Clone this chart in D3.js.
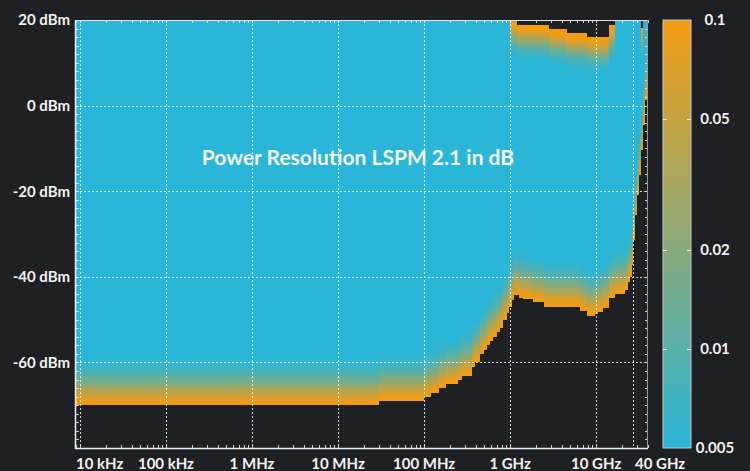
<!DOCTYPE html>
<html><head><meta charset="utf-8">
<script src="https://cdn.jsdelivr.net/npm/d3@7"></script>
<style>
html,body{margin:0;padding:0;background:#1f2023;}
svg{display:block;font-family:Lato,"Open Sans",sans-serif;}
</style></head><body>
<svg id="chart" width="750" height="471"></svg>
<script>
// ---- data ----
const freqEdges = [9e3, 30.1e6, 99e6, 120e6, 150e6, 181e6, 250e6, 278e6, 363e6, 390e6, 446e6, 501e6, 534e6,
  583e6, 637e6, 698e6, 762e6, 833e6, 912e6, 970e6, 1.0e9, 1.06e9, 1.12e9, 1.19e9, 1.28e9, 1.42e9, 1.86e9,
  2.47e9, 2.83e9, 4.58e9, 6.48e9, 7.76e9, 9.7e9, 10.6e9, 12.1e9, 14.1e9, 16.6e9, 21.6e9, 23.2e9, 24.7e9,
  25.8e9, 27.0e9, 28.3e9, 29.9e9, 31.5e9, 33.3e9, 35.1e9, 37.0e9, 38.5e9, 40e9];
const floorDbm = [-70, -69, -68.1, -67.2, -66, -65.1, -64.1, -63.2, -61.1, -60, -58, -57.1,
  -55.9, -54.9, -54, -53, -52, -50, -48.5, -47, -47, -45.4, -44.3, -44.3, -45, -45.3,
  -46, -47, -47, -47, -48, -49.1, -48.7, -48.2, -47.2, -45, -44.1, -43.1, -41.1,
  -40, -37.2, -31.4, -25.6, -20.9, -16.2, -10.4, -4.5, 1.3, 6.0];
const ceilDbm = [null, null, null, null, null, null, null, null, null, null, null, null,
  null, null, null, null, null, null, null, null, 20, 20, 20, 18.8, 18.8, 18.8,
  18.8, 18.8, 17.8, 16.9, 16.9, 16.0, 16.0, 16.0, 16.0, 18.8, null, null, null,
  null, null, null, null, null, null, 18.1, null, null, null];
// resolution (dB) per 0.5 dB row above the lower measurable limit
const riseProfile = [0.1, 0.092, 0.082, 0.07, 0.058, 0.048, 0.04, 0.033, 0.027, 0.022,
  0.018, 0.015, 0.0125, 0.0107, 0.0093, 0.0082, 0.0073, 0.0066, 0.006, 0.0056, 0.0053, 0.0051];
// resolution (dB) per 0.5 dB row below the upper measurable limit
const dropProfile = [0.1, 0.094, 0.082, 0.066, 0.05, 0.038, 0.029, 0.022, 0.017, 0.013,
  0.0105, 0.0088, 0.0075, 0.0065, 0.0058, 0.0053];
const baseResolution = 0.005;
const stepDb = 0.5;

const xTickValues = [1e4, 1e5, 1e6, 1e7, 1e8, 1e9, 1e10, 4e10];
const xTickLabels = ["10 kHz", "100 kHz", "1 MHz", "10 MHz", "100 MHz", "1 GHz", "10 GHz", "40 GHz"];
const xGridValues = [1e4, 1e5, 1e6, 1e7, 1e8, 1e9, 1e10, 2.65e10];
const yTickValues = [20, 0, -20, -40, -60];
const yTickLabels = ["20 dBm", "0 dBm", "-20 dBm", "-40 dBm", "-60 dBm"];
const yGridValues = [0, -20, -40, -60];
const colorTickValues = [0.1, 0.05, 0.02, 0.01, 0.005];
const colorTickLabels = ["0.1", "0.05", "0.02", "0.01", "0.005"];
const chartTitle = "Power Resolution LSPM 2.1 in dB";

// ---- layout ----
const plot = {left: 76, right: 648, top: 20, bottom: 448};
const cbar = {left: 663, width: 28};
const svg = d3.select("#chart");
const x = d3.scaleLog().domain([9e3, 4e10]).range([plot.left, plot.right]);
const y = d3.scaleLinear().domain([-80, 20]).range([plot.bottom, plot.top]);
const cLo = "#29b6d8", cHi = "#f39c12";
const color = d3.scaleLog().domain([0.005, 0.1]).range([cLo, cHi]).interpolate(d3.interpolateRgb).clamp(true);
const cy = d3.scaleLog().domain([0.005, 0.1]).range([plot.bottom, plot.top]);

// ---- heatmap cells ----
const cells = [];
floorDbm.forEach((fl, i) => {
  const hasCeil = ceilDbm[i] != null;
  const top = hasCeil ? Math.min(ceilDbm[i], 20) : 20;
  let cur = null;
  for (let k = 0; fl + k * stepDb < top - 1e-6; k++) {
    const lo = fl + k * stepDb;
    const hi = Math.min(lo + stepDb, top);
    let v = k < riseProfile.length ? riseProfile[k] : baseResolution;
    if (hasCeil) {
      const j = Math.floor((top - hi) / stepDb + 1e-6);
      if (j < dropProfile.length) v = Math.max(v, dropProfile[j]);
    }
    v = Math.max(v, baseResolution);
    if (cur && cur.v === v) { cur.hi = hi; }
    else { cur = {f0: freqEdges[i], f1: freqEdges[i + 1], lo, hi, v}; cells.push(cur); }
  }
});

svg.append("g").attr("shape-rendering", "crispEdges")
  .selectAll("rect").data(cells).join("rect")
  .attr("x", d => x(d.f0))
  .attr("width", d => x(d.f1) - x(d.f0))
  .attr("y", d => y(d.hi))
  .attr("height", d => y(d.lo) - y(d.hi))
  .attr("fill", d => color(d.v));

// ---- grid ----
const grid = svg.append("g").attr("stroke", "rgba(255,255,255,0.8)").attr("stroke-width", 1).attr("stroke-dasharray", "2,2");
grid.selectAll("line.v").data(xGridValues).join("line").attr("class", "v")
  .attr("x1", d => Math.round(x(d)) + 0.5).attr("x2", d => Math.round(x(d)) + 0.5)
  .attr("y1", plot.top).attr("y2", plot.bottom);
grid.selectAll("line.h").data(yGridValues).join("line").attr("class", "h")
  .attr("y1", d => Math.round(y(d)) + 0.5).attr("y2", d => Math.round(y(d)) + 0.5)
  .attr("x1", plot.left).attr("x2", plot.right);

// ---- minor ticks ----
const minorX = [];
for (let d = 1e3; d <= 1e10; d *= 10) for (let m = 1; m <= 9; m++) { const f = m * d; if (f >= 9e3 && f <= 4e10) minorX.push(f); }
const minorY = d3.range(-80, 20.01, 2);
const tk = svg.append("g").attr("stroke", "rgba(235,235,235,0.85)").attr("stroke-width", 1);
tk.selectAll("line.b").data(minorX).join("line").attr("class", "b")
  .attr("x1", d => Math.round(x(d)) + 0.5).attr("x2", d => Math.round(x(d)) + 0.5)
  .attr("y1", plot.bottom).attr("y2", plot.bottom - 3);
tk.selectAll("line.t").data(minorX).join("line").attr("class", "t")
  .attr("x1", d => Math.round(x(d)) + 0.5).attr("x2", d => Math.round(x(d)) + 0.5)
  .attr("y1", plot.top).attr("y2", plot.top + 3);
tk.selectAll("line.l").data(minorY).join("line").attr("class", "l")
  .attr("y1", d => Math.round(y(d)) + 0.5).attr("y2", d => Math.round(y(d)) + 0.5)
  .attr("x1", plot.left).attr("x2", plot.left + 3);
tk.selectAll("line.r").data(minorY).join("line").attr("class", "r")
  .attr("y1", d => Math.round(y(d)) + 0.5).attr("y2", d => Math.round(y(d)) + 0.5)
  .attr("x1", plot.right).attr("x2", plot.right - 3);

// ---- frame ----
svg.append("line").attr("x1", plot.left).attr("x2", plot.right).attr("y1", plot.top + 0.5).attr("y2", plot.top + 0.5).attr("stroke", "#e6e6e6");
svg.append("line").attr("x1", plot.right - 0.5).attr("x2", plot.right - 0.5).attr("y1", plot.top).attr("y2", plot.bottom).attr("stroke", "#9a9a9a");
svg.append("line").attr("x1", plot.left - 0.5).attr("x2", plot.left - 0.5).attr("y1", plot.top).attr("y2", plot.bottom + 1).attr("stroke", "#ededed").attr("stroke-width", 1.5);
svg.append("line").attr("x1", plot.left - 1).attr("x2", plot.right).attr("y1", plot.bottom + 0.5).attr("y2", plot.bottom + 0.5).attr("stroke", "#ededed").attr("stroke-width", 1.5);

// ---- axis labels ----
const lab = svg.append("g").attr("fill", "#f2f2f2").attr("font-size", 15).attr("font-weight", 700);
lab.selectAll("text.x").data(xTickValues).join("text").attr("class", "x")
  .attr("x", (d, i) => i === 0 ? plot.left : (i === xTickValues.length - 1 ? x(d) - 13 : x(d)))
  .attr("text-anchor", (d, i) => (i === 0 || i === xTickValues.length - 1) ? "start" : "middle")
  .attr("y", 469)
  .text((d, i) => xTickLabels[i]);
lab.selectAll("text.y").data(yTickValues).join("text").attr("class", "y")
  .attr("x", 70).attr("text-anchor", "end")
  .attr("y", d => y(d)).attr("dy", "0.36em")
  .text((d, i) => yTickLabels[i]);

// ---- colorbar ----
const defs = svg.append("defs");
const grad = defs.append("linearGradient").attr("id", "cb").attr("x1", 0).attr("x2", 0).attr("y1", 1).attr("y2", 0);
d3.range(0, 1.0001, 0.05).forEach(t => {
  const v = Math.pow(10, Math.log10(0.005) + t * (Math.log10(0.1) - Math.log10(0.005)));
  grad.append("stop").attr("offset", t).attr("stop-color", color(v));
});
svg.append("rect").attr("x", cbar.left).attr("y", plot.top).attr("width", cbar.width).attr("height", plot.bottom - plot.top)
  .attr("fill", "url(#cb)").attr("stroke", "#c8c8c8").attr("stroke-width", 1);
const cbt = svg.append("g").attr("stroke", "rgba(255,255,255,0.8)");
cbt.selectAll("line.a").data(colorTickValues.slice(1, -1)).join("line").attr("class", "a")
  .attr("x1", cbar.left).attr("x2", cbar.left + 4)
  .attr("y1", d => Math.round(cy(d)) + 0.5).attr("y2", d => Math.round(cy(d)) + 0.5);
cbt.selectAll("line.b").data(colorTickValues.slice(1, -1)).join("line").attr("class", "b")
  .attr("x1", cbar.left + cbar.width - 4).attr("x2", cbar.left + cbar.width)
  .attr("y1", d => Math.round(cy(d)) + 0.5).attr("y2", d => Math.round(cy(d)) + 0.5);
lab.selectAll("text.c").data(colorTickValues).join("text").attr("class", "c")
  .attr("x", 715).attr("text-anchor", "middle")
  .attr("y", d => cy(d)).attr("dy", "0.36em")
  .text((d, i) => colorTickLabels[i]);

// ---- title ----
svg.append("text").attr("x", 358).attr("y", 165).attr("text-anchor", "middle")
  .attr("fill", "#f4f4f4").attr("font-size", 21).attr("font-weight", 700)
  .text(chartTitle);
</script>
</body></html>
